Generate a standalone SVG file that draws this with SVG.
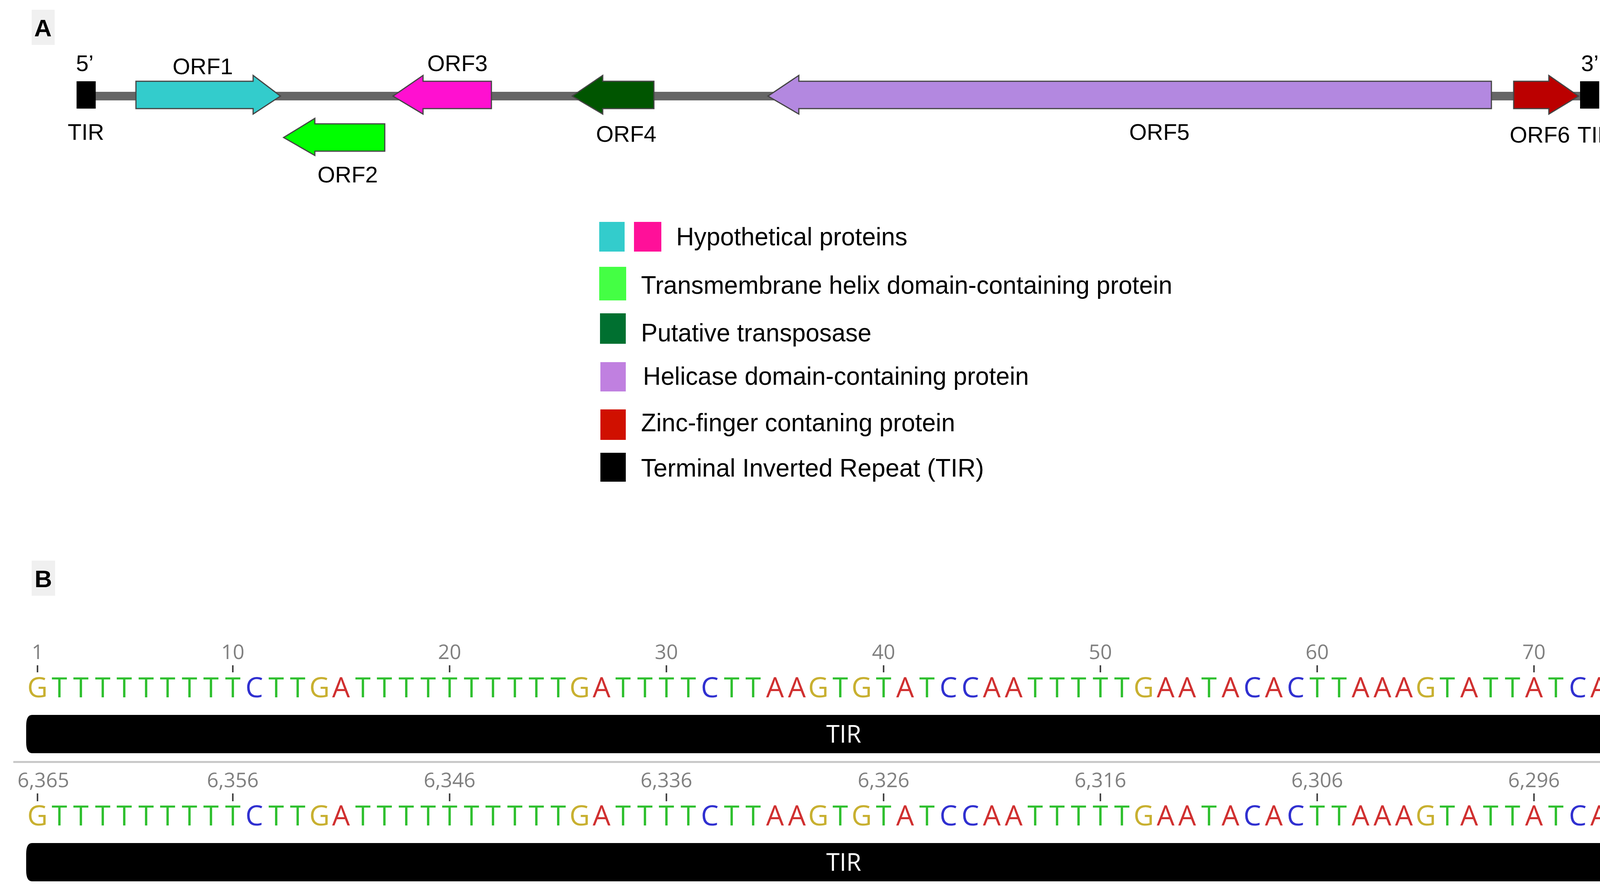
<svg xmlns="http://www.w3.org/2000/svg" width="4390" height="2291" viewBox="0 0 4390 2291">
<style>
.lbl{font-family:"Liberation Sans",Arial,sans-serif;font-size:58px;fill:#000;text-anchor:middle}
.leg{font-family:"Liberation Sans",Arial,sans-serif;font-size:64px;fill:#000}
.pan{font-family:"Liberation Sans",Arial,sans-serif;font-size:62px;font-weight:bold;fill:#000;text-anchor:middle}
.orf{stroke:#444;stroke-width:3}
.num{font-family:"Open Sans","DejaVu Sans",sans-serif;font-size:52px;fill:#808080;text-anchor:middle}
.seq{font-family:"Open Sans","DejaVu Sans",sans-serif;font-size:72px;text-anchor:middle}
.G{fill:#c8b030}.T{fill:#30c030}.C{fill:#3030d0}.A{fill:#d03030}
.tick{stroke:#444;stroke-width:4}
.tirl{font-family:"Open Sans","DejaVu Sans",sans-serif;font-size:62px;fill:#fff;text-anchor:middle}
</style>
<rect width="4390" height="2291" fill="#fff"/>
<g id="panelA">
<rect x="81" y="25" width="59" height="90" fill="#f0f0f0"/>
<text class="pan" x="110" y="93">A</text>
</g>
<g id="connectors">
<rect x="240" y="235" width="3810" height="22" fill="#666"/>
</g>
<g id="tir-left"><rect x="196" y="208" width="49" height="70" fill="#000"/><text class="lbl" x="217" y="182">5’</text><text class="lbl" x="220" y="358">TIR</text></g>
<g id="orf1"><polygon class="orf" fill="#33cccc" points="348,208 648,208 648,193 718,246 648,292 648,278 348,278"/><text class="lbl" x="519" y="190">ORF1</text></g>
<g id="orf2"><polygon class="orf" fill="#00ff00" points="985,317 806,317 806,303 726,352 806,398 806,387 985,387"/><text class="lbl" x="890" y="467">ORF2</text></g>
<g id="orf3"><polygon class="orf" fill="#ff10d0" points="1258,208 1083,208 1083,193 1006,246 1083,292 1083,278 1258,278"/><text class="lbl" x="1171" y="182">ORF3</text></g>
<g id="orf4"><polygon class="orf" fill="#005500" points="1674,208 1543,208 1543,193 1465,246 1543,292 1543,278 1674,278"/><text class="lbl" x="1603" y="363">ORF4</text></g>
<g id="orf5"><polygon class="orf" fill="#b388e0" points="3818,208 2045,208 2045,193 1966,246 2045,292 2045,278 3818,278"/><text class="lbl" x="2968" y="358">ORF5</text></g>
<g id="orf6"><polygon class="orf" fill="#bb0000" points="3875,208 3965,208 3965,193 4041,246 3965,292 3965,278 3875,278"/><text class="lbl" x="3942" y="365">ORF6</text></g>
<g id="tir-right"><rect x="4045" y="208" width="49" height="70" fill="#000"/><text class="lbl" x="4070" y="182">3’</text><text class="lbl" x="4085" y="365">TIR</text></g>
<g id="legend">
<rect x="1534" y="568" width="65" height="76" fill="#33cccc"/><rect x="1623" y="568" width="70" height="76" fill="#ff1099"/>
<text class="leg" x="1731" y="628" textLength="592" lengthAdjust="spacingAndGlyphs">Hypothetical proteins</text>
<rect x="1534" y="683" width="69" height="86" fill="#44ff44"/>
<text class="leg" x="1641" y="752" textLength="1360" lengthAdjust="spacingAndGlyphs">Transmembrane helix domain-containing protein</text>
<rect x="1536" y="802" width="66" height="78" fill="#007030"/>
<text class="leg" x="1641" y="874" textLength="590" lengthAdjust="spacingAndGlyphs">Putative transposase</text>
<rect x="1537" y="927" width="65" height="75" fill="#c080e0"/>
<text class="leg" x="1646" y="985" textLength="988" lengthAdjust="spacingAndGlyphs">Helicase domain-containing protein</text>
<rect x="1537" y="1048" width="65" height="78" fill="#d01000"/>
<text class="leg" x="1641" y="1104" textLength="804" lengthAdjust="spacingAndGlyphs">Zinc-finger contaning protein</text>
<rect x="1537" y="1159" width="65" height="74" fill="#000"/>
<text class="leg" x="1641" y="1220" textLength="878" lengthAdjust="spacingAndGlyphs">Terminal Inverted Repeat (TIR)</text>
</g>
<g id="panelB">
<rect x="81" y="1435" width="60" height="90" fill="#f0f0f0"/>
<text class="pan" x="111" y="1503">B</text>
</g>
<g id="ruler1">
<text class="num" x="96" y="1687">1</text><text class="num" x="596" y="1687">10</text><text class="num" x="1151" y="1687">20</text><text class="num" x="1706" y="1687">30</text><text class="num" x="2262" y="1687">40</text><text class="num" x="2817" y="1687">50</text><text class="num" x="3372" y="1687">60</text><text class="num" x="3927" y="1687">70</text><text class="num" x="4316" y="1687">77</text>
<path class="tick" d="M96 1703V1721M596 1703V1721M1151 1703V1721M1706 1703V1721M2262 1703V1721M2817 1703V1721M3372 1703V1721M3927 1703V1721M4316 1703V1721"/>
</g>
<g id="seq1"><text class="seq" y="1785"><tspan class="G" x="96">G</tspan><tspan class="T" x="152 207 263 318 374 429 485 540 596">TTTTTTTTT</tspan><tspan class="C" x="651">C</tspan><tspan class="T" x="707 762">TT</tspan><tspan class="G" x="818">G</tspan><tspan class="A" x="873">A</tspan><tspan class="T" x="929 984 1040 1096 1151 1207 1262 1318 1373 1429">TTTTTTTTTT</tspan><tspan class="G" x="1484">G</tspan><tspan class="A" x="1540">A</tspan><tspan class="T" x="1595 1651 1706 1762">TTTT</tspan><tspan class="C" x="1817">C</tspan><tspan class="T" x="1873 1928">TT</tspan><tspan class="A" x="1984 2040">AA</tspan><tspan class="G" x="2095">G</tspan><tspan class="T" x="2151">T</tspan><tspan class="G" x="2206">G</tspan><tspan class="T" x="2262">T</tspan><tspan class="A" x="2317">A</tspan><tspan class="T" x="2373">T</tspan><tspan class="C" x="2428 2484">CC</tspan><tspan class="A" x="2539 2595">AA</tspan><tspan class="T" x="2650 2706 2761 2817 2872">TTTTT</tspan><tspan class="G" x="2928">G</tspan><tspan class="A" x="2984 3039">AA</tspan><tspan class="T" x="3095">T</tspan><tspan class="A" x="3150">A</tspan><tspan class="C" x="3206">C</tspan><tspan class="A" x="3261">A</tspan><tspan class="C" x="3317">C</tspan><tspan class="T" x="3372 3428">TT</tspan><tspan class="A" x="3483 3539 3594">AAA</tspan><tspan class="G" x="3650">G</tspan><tspan class="T" x="3705">T</tspan><tspan class="A" x="3761">A</tspan><tspan class="T" x="3816 3872">TT</tspan><tspan class="A" x="3927">A</tspan><tspan class="T" x="3983">T</tspan><tspan class="C" x="4039">C</tspan><tspan class="A" x="4094">A</tspan><tspan class="T" x="4150 4205 4261">TTT</tspan><tspan class="G" x="4316">G</tspan></text></g>
<g id="tir-arrow1"><path d="M82 1830H4290V1818L4345 1879L4290 1940V1928H82Q67 1928 67 1900V1858Q67 1830 82 1830Z" fill="#000"/><text class="tirl" x="2160" y="1901">TIR</text></g>
<g id="separator"><rect x="34" y="1948" width="4341" height="5" fill="#c8c8c8"/></g>
<g id="ruler2">
<text class="num" x="111" y="2015">6,365</text><text class="num" x="596" y="2015">6,356</text><text class="num" x="1151" y="2015">6,346</text><text class="num" x="1706" y="2015">6,336</text><text class="num" x="2262" y="2015">6,326</text><text class="num" x="2817" y="2015">6,316</text><text class="num" x="3372" y="2015">6,306</text><text class="num" x="3927" y="2015">6,296</text><text class="num" x="4280" y="2015">6,289</text>
<path class="tick" d="M96 2031V2051M596 2031V2051M1151 2031V2051M1706 2031V2051M2262 2031V2051M2817 2031V2051M3372 2031V2051M3927 2031V2051M4316 2031V2051"/>
</g>
<g id="seq2"><text class="seq" y="2113"><tspan class="G" x="96">G</tspan><tspan class="T" x="152 207 263 318 374 429 485 540 596">TTTTTTTTT</tspan><tspan class="C" x="651">C</tspan><tspan class="T" x="707 762">TT</tspan><tspan class="G" x="818">G</tspan><tspan class="A" x="873">A</tspan><tspan class="T" x="929 984 1040 1096 1151 1207 1262 1318 1373 1429">TTTTTTTTTT</tspan><tspan class="G" x="1484">G</tspan><tspan class="A" x="1540">A</tspan><tspan class="T" x="1595 1651 1706 1762">TTTT</tspan><tspan class="C" x="1817">C</tspan><tspan class="T" x="1873 1928">TT</tspan><tspan class="A" x="1984 2040">AA</tspan><tspan class="G" x="2095">G</tspan><tspan class="T" x="2151">T</tspan><tspan class="G" x="2206">G</tspan><tspan class="T" x="2262">T</tspan><tspan class="A" x="2317">A</tspan><tspan class="T" x="2373">T</tspan><tspan class="C" x="2428 2484">CC</tspan><tspan class="A" x="2539 2595">AA</tspan><tspan class="T" x="2650 2706 2761 2817 2872">TTTTT</tspan><tspan class="G" x="2928">G</tspan><tspan class="A" x="2984 3039">AA</tspan><tspan class="T" x="3095">T</tspan><tspan class="A" x="3150">A</tspan><tspan class="C" x="3206">C</tspan><tspan class="A" x="3261">A</tspan><tspan class="C" x="3317">C</tspan><tspan class="T" x="3372 3428">TT</tspan><tspan class="A" x="3483 3539 3594">AAA</tspan><tspan class="G" x="3650">G</tspan><tspan class="T" x="3705">T</tspan><tspan class="A" x="3761">A</tspan><tspan class="T" x="3816 3872">TT</tspan><tspan class="A" x="3927">A</tspan><tspan class="T" x="3983">T</tspan><tspan class="C" x="4039">C</tspan><tspan class="A" x="4094">A</tspan><tspan class="T" x="4150 4205 4261">TTT</tspan><tspan class="G" x="4316">G</tspan></text></g>
<g id="tir-arrow2"><path d="M82 2158H4290V2145L4345 2207L4290 2267V2256H82Q67 2256 67 2228V2186Q67 2158 82 2158Z" fill="#000"/><text class="tirl" x="2160" y="2229">TIR</text></g>
</svg>
